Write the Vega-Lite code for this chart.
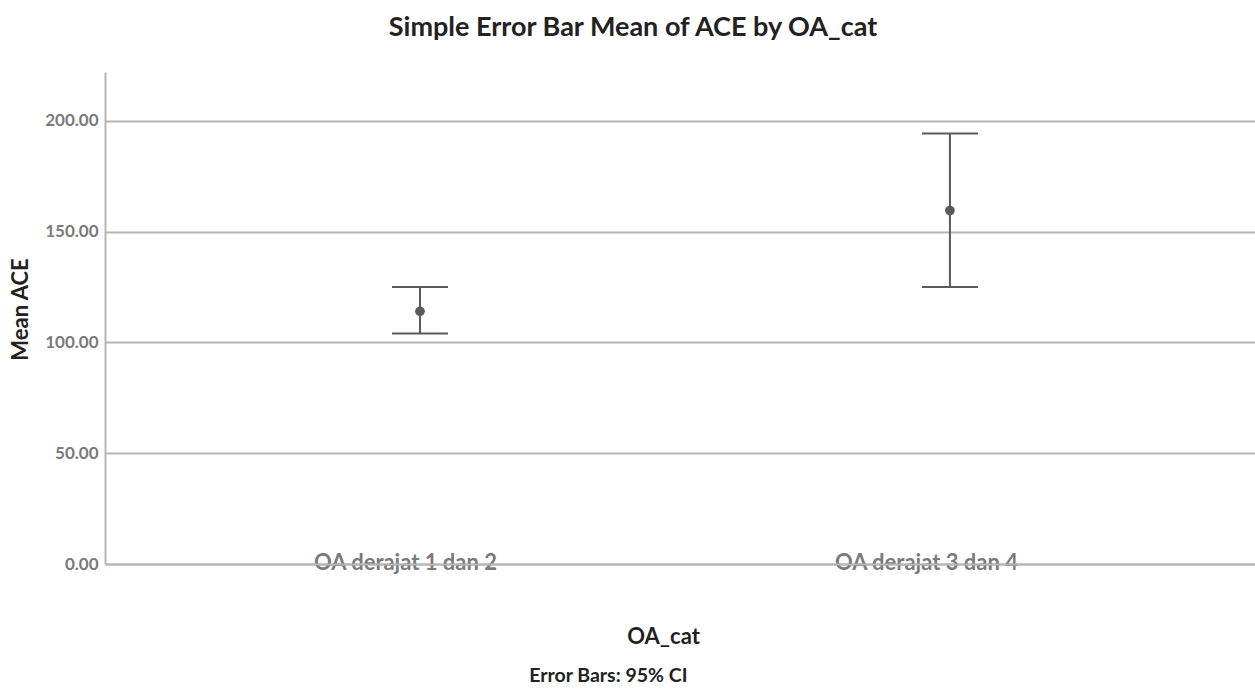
{
  "$schema": "https://vega.github.io/schema/vega-lite/v6.json",
  "background": "white",
  "padding": {"left": 9, "top": 14, "right": 0, "bottom": 0},
  "config": {"view": {"stroke": null}, "font": "Lato"},
  "title": {"text": "Error Bars: 95% CI", "orient": "bottom", "font": "Lato", "fontSize": 19.5, "fontWeight": "bold", "color": "#222222", "anchor": "middle", "offset": 20, "dx": -24},
  "vconcat": [
    {
      "width": 1150,
      "height": 492,
      "title": {"text": "Simple Error Bar Mean of ACE by OA_cat", "font": "Lato", "fontSize": 27, "fontWeight": "bold", "color": "#222222", "anchor": "middle", "offset": 30, "dx": -47},
      "data": {"values": [
        {"OA_cat": "OA derajat 1 dan 2", "mean": 114.0, "lo": 104.0, "hi": 125.0},
        {"OA_cat": "OA derajat 3 dan 4", "mean": 159.5, "lo": 125.0, "hi": 194.2}
      ]},
      "encoding": {
        "x": {"field": "OA_cat", "type": "nominal", "sort": null,
          "scale": {"type": "point", "padding": 0.585, "align": 0.508},
          "axis": {"title": "OA_cat", "labelAngle": 0,
            "labelOffset": {"condition": {"test": "datum.value === 'OA derajat 1 dan 2'", "value": -15}, "value": -24},
            "labelBaseline": "middle", "labelPadding": -2, "labelLimit": 0, "ticks": false, "grid": false,
            "domainColor": "#b5b5b5", "domainWidth": 2, "labelColor": "#7a7a7a", "labelFontSize": 22, "labelFontWeight": "bold", "labelFont": "Lato",
            "titleFontSize": 22, "titleFontWeight": "bold", "titleColor": "#222222", "titleFont": "Lato", "titleX": 558, "titleY": 72, "titleBaseline": "middle", "titleAnchor": null}
        }
      },
      "layer": [
        {
          "mark": {"type": "rule", "color": "#5a5a5a", "strokeWidth": 2},
          "encoding": {
            "y": {"field": "lo", "type": "quantitative", "title": "Mean ACE",
              "scale": {"domain": [0, 222], "nice": false, "zero": true},
              "axis": {"values": [0, 50, 100, 150, 200], "format": ".2f", "grid": true, "gridColor": "#b5b5b5", "gridWidth": 2, "ticks": false,
                "domainColor": "#b5b5b5", "domainWidth": 2, "labelPadding": 7, "labelColor": "#7a7a7a", "labelFontSize": 17, "labelFontWeight": "bold", "labelFont": "Lato",
                "titleFontSize": 22, "titleFontWeight": "bold", "titleColor": "#222222", "titleFont": "Lato", "titlePadding": 12, "titleY": 237}},
            "y2": {"field": "hi"}
          }
        },
        {
          "mark": {"type": "tick", "color": "#5a5a5a", "size": 56, "thickness": 2, "opacity": 1},
          "encoding": {"y": {"field": "lo", "type": "quantitative", "title": "Mean ACE"}}
        },
        {
          "mark": {"type": "tick", "color": "#5a5a5a", "size": 56, "thickness": 2, "opacity": 1},
          "encoding": {"y": {"field": "hi", "type": "quantitative", "title": "Mean ACE"}}
        },
        {
          "mark": {"type": "point", "filled": true, "color": "#5a5a5a", "size": 95, "opacity": 1},
          "encoding": {"y": {"field": "mean", "type": "quantitative", "title": "Mean ACE"}}
        }
      ]
    }
  ]
}
